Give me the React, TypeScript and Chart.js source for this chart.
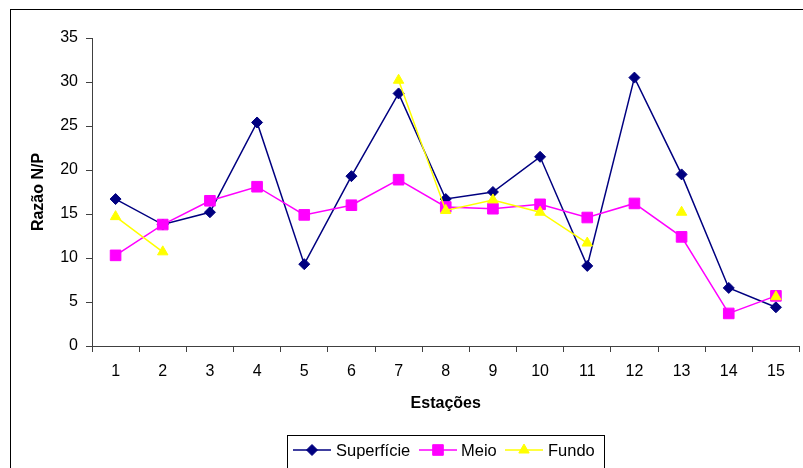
import React, { useEffect, useRef } from "react";
import { Chart, registerables } from "chart.js";

Chart.register(...registerables);

// Stations along the transect
const stations = ["1", "2", "3", "4", "5", "6", "7", "8", "9", "10", "11", "12", "13", "14", "15"];

// N/P ratio per depth layer
const superficie = [16.7, 13.8, 15.2, 25.4, 9.3, 19.3, 28.7, 16.7, 17.5, 21.5, 9.1, 30.5, 19.5, 6.6, 4.4];
const meio = [10.3, 13.8, 16.5, 18.1, 14.9, 16.0, 18.9, 15.8, 15.6, 16.1, 14.6, 16.2, 12.4, 3.7, 5.7];
const fundo = [14.7, 10.7, null, null, null, null, 30.2, 15.4, 16.6, 15.2, 11.7, null, 15.2, null, 5.6];

const yTicks = { min: 0, max: 35, step: 5 };

const FONT = "'Liberation Sans', Arial, sans-serif";
const AXIS = "#404040";

type SeriesStyle = { label: string; color: string; marker: string; radius: number };
const styles: SeriesStyle[] = [
  { label: "Superfície", color: "#000080", marker: "rectRot", radius: 5.5 },
  { label: "Meio", color: "#FF00FF", marker: "rect", radius: 7.5 },
  { label: "Fundo", color: "#FFFF00", marker: "triangle", radius: 6 },
];

// small marker used in the legend, same shapes as the series points
function drawMarker(ctx: CanvasRenderingContext2D, kind: string, r: number, x: number, y: number) {
  ctx.beginPath();
  if (kind === "rectRot") {
    ctx.moveTo(x, y - r);
    ctx.lineTo(x + r, y);
    ctx.lineTo(x, y + r);
    ctx.lineTo(x - r, y);
  } else if (kind === "rect") {
    const h = r * Math.SQRT1_2;
    ctx.rect(x - h, y - h, 2 * h, 2 * h);
  } else {
    const h = r * 0.866;
    ctx.moveTo(x, y - r);
    ctx.lineTo(x + h, y + r / 2);
    ctx.lineTo(x - h, y + r / 2);
  }
  ctx.closePath();
  ctx.fill();
  ctx.stroke();
}

const decor = {
  id: "decor",
  afterDraw(chart: any) {
    const ctx: CanvasRenderingContext2D = chart.ctx;
    const area = chart.chartArea;
    ctx.save();
    ctx.fillStyle = "#000";
    ctx.font = `bold 16px ${FONT}`;
    ctx.textAlign = "center";
    ctx.textBaseline = "middle";
    ctx.fillText("Estações", (area.left + area.right) / 2, 404);
    ctx.save();
    ctx.translate(39, 192);
    ctx.rotate(-Math.PI / 2);
    ctx.fillText("Razão N/P", 0, 0);
    ctx.restore();

    // legend box
    ctx.strokeStyle = "#000";
    ctx.lineWidth = 1;
    ctx.strokeRect(287.5, 435.5, 317, 40);
    const items = [
      { x1: 293, x2: 331, tx: 336 },
      { x1: 419, x2: 457, tx: 461 },
      { x1: 505, x2: 543, tx: 548 },
    ];
    const ly = 450;
    ctx.font = `16.5px ${FONT}`;
    ctx.textAlign = "left";
    items.forEach((it, i) => {
      const s = styles[i];
      ctx.strokeStyle = s.color;
      ctx.lineWidth = 1.5;
      ctx.beginPath();
      ctx.moveTo(it.x1, ly);
      ctx.lineTo(it.x2, ly);
      ctx.stroke();
      ctx.fillStyle = s.color;
      ctx.lineWidth = 1;
      drawMarker(ctx, s.marker, s.radius, (it.x1 + it.x2) / 2, ly);
      ctx.fillStyle = "#000";
      ctx.fillText(s.label, it.tx, ly + 1);
    });
    ctx.restore();
  },
};

export default function App() {
  const ref = useRef<HTMLCanvasElement>(null);

  useEffect(() => {
    if (!ref.current) return;
    const mk = (data: (number | null)[], s: SeriesStyle, order: number) => ({
      label: s.label,
      data,
      borderColor: s.color,
      backgroundColor: s.color,
      borderWidth: 1.5,
      pointStyle: s.marker,
      pointRadius: s.radius,
      pointBorderWidth: 1,
      pointBackgroundColor: s.color,
      pointBorderColor: s.color,
      tension: 0,
      spanGaps: false,
      order,
    });
    const tickFont = { family: FONT, size: 16 };
    const chart = new Chart(ref.current, {
      type: "line",
      data: {
        labels: stations,
        datasets: [mk(superficie, styles[0], 2), mk(meio, styles[1], 1), mk(fundo as any, styles[2], 0)],
      },
      options: {
        animation: false,
        responsive: false,
        devicePixelRatio: 1,
        layout: { padding: { top: 38, right: 4, left: 0, bottom: 0 } },
        plugins: { legend: { display: false }, tooltip: { enabled: false } },
        scales: {
          x: {
            offset: true,
            grid: { offset: true, drawOnChartArea: false, tickLength: 6, color: AXIS },
            border: { color: AXIS },
            ticks: { font: tickFont, color: "#000", padding: 10, maxRotation: 0, autoSkip: false },
            afterFit: (s: any) => {
              s.height = 122;
            },
          },
          y: {
            min: yTicks.min,
            max: yTicks.max,
            grid: { drawOnChartArea: false, tickLength: 6, color: AXIS },
            border: { color: AXIS },
            ticks: { stepSize: yTicks.step, font: tickFont, color: "#000", padding: 8 },
            afterFit: (s: any) => {
              s.width = 92;
            },
          },
        },
      } as any,
      plugins: [decor],
    });
    return () => chart.destroy();
  }, []);

  return (
    <div style={{ position: "fixed", left: 0, top: 0, width: 803, height: 468, overflow: "hidden", background: "#fff" }}>
      <div style={{ position: "absolute", left: 10, top: 9, width: 820, height: 500, border: "1px solid #000" }} />
      <canvas ref={ref} width={808} height={468} style={{ position: "absolute", left: 0, top: 0, width: 808, height: 468 }} />
    </div>
  );
}
